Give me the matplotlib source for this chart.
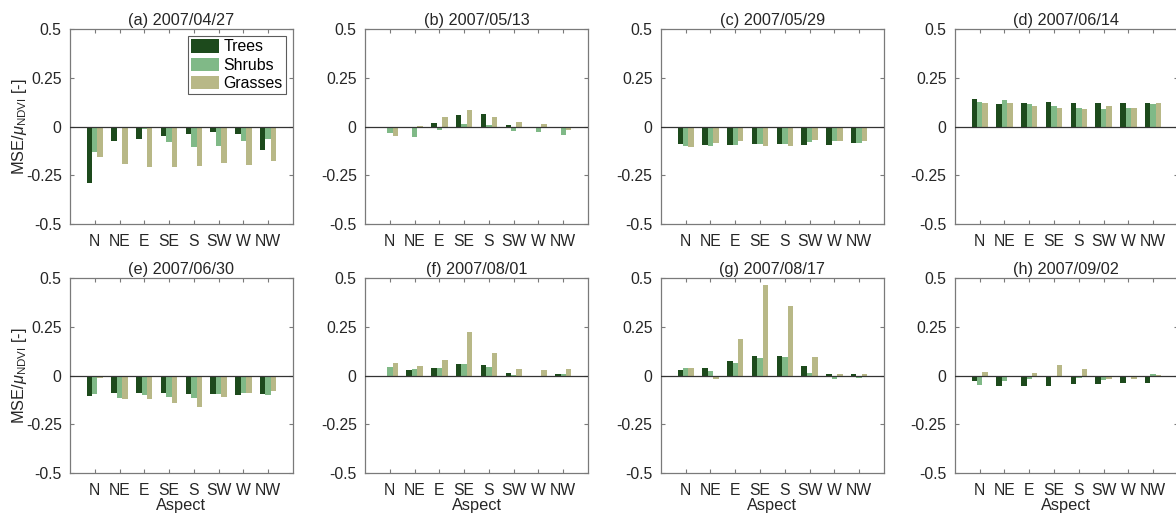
import numpy as np
import matplotlib
matplotlib.use("Agg")
import matplotlib.pyplot as plt

plt.rcParams['font.family'] = ['Liberation Sans', 'DejaVu Sans']
plt.rcParams['mathtext.fontset'] = 'custom'
plt.rcParams['mathtext.rm'] = 'Liberation Sans'
plt.rcParams['mathtext.it'] = 'Liberation Sans:italic'

aspects = ['N', 'NE', 'E', 'SE', 'S', 'SW', 'W', 'NW']
veg_types = ['Trees', 'Shrubs', 'Grasses']
colors = ['#1d4a1c', '#80b987', '#b8b887']
titles = ['(a) 2007/04/27', '(b) 2007/05/13', '(c) 2007/05/29', '(d) 2007/06/14',
          '(e) 2007/06/30', '(f) 2007/08/01', '(g) 2007/08/17', '(h) 2007/09/02']

# normalised MSE per aspect, one list per vegetation type
trees_a = [-0.288, -0.074, -0.062, -0.046, -0.039, -0.027, -0.036, -0.120]
shrubs_a = [-0.128, 0.000, -0.010, -0.079, -0.104, -0.101, -0.072, -0.062]
grasses_a = [-0.156, -0.190, -0.209, -0.205, -0.200, -0.188, -0.197, -0.175]

trees_b = [-0.009, -0.008, 0.017, 0.060, 0.062, 0.007, -0.008, -0.007]
shrubs_b = [-0.031, -0.055, -0.019, 0.014, 0.007, -0.022, -0.029, -0.043]
grasses_b = [-0.048, 0.005, 0.048, 0.086, 0.051, 0.022, 0.012, -0.019]

trees_c = [-0.091, -0.096, -0.094, -0.089, -0.087, -0.094, -0.096, -0.084]
shrubs_c = [-0.101, -0.101, -0.096, -0.089, -0.087, -0.079, -0.075, -0.082]
grasses_c = [-0.103, -0.084, -0.072, -0.099, -0.099, -0.070, -0.072, -0.072]

trees_d = [0.139, 0.118, 0.123, 0.128, 0.122, 0.123, 0.123, 0.120]
shrubs_d = [0.125, 0.135, 0.116, 0.103, 0.094, 0.092, 0.094, 0.115]
grasses_d = [0.122, 0.123, 0.103, 0.094, 0.089, 0.103, 0.096, 0.120]

trees_e = [-0.106, -0.087, -0.087, -0.092, -0.094, -0.096, -0.099, -0.096]
shrubs_e = [-0.096, -0.114, -0.102, -0.109, -0.114, -0.096, -0.089, -0.099]
grasses_e = [-0.012, -0.120, -0.120, -0.140, -0.160, -0.109, -0.089, -0.080]

trees_f = [-0.010, 0.026, 0.041, 0.060, 0.053, 0.012, -0.005, 0.009]
shrubs_f = [0.046, 0.032, 0.041, 0.060, 0.043, 0.002, -0.002, 0.009]
grasses_f = [0.065, 0.048, 0.078, 0.222, 0.116, 0.034, 0.026, 0.034]

trees_g = [0.031, 0.041, 0.073, 0.100, 0.099, 0.048, 0.007, 0.007]
shrubs_g = [0.038, 0.022, 0.065, 0.090, 0.094, 0.015, -0.017, -0.015]
grasses_g = [0.041, -0.019, 0.186, 0.464, 0.357, 0.097, 0.007, 0.007]

trees_h = [-0.027, -0.056, -0.056, -0.056, -0.043, -0.041, -0.036, -0.039]
shrubs_h = [-0.046, -0.027, -0.019, -0.003, -0.012, -0.024, 0.000, 0.007]
grasses_h = [0.017, -0.005, 0.014, 0.053, 0.032, -0.019, -0.019, 0.005]

panels = [
    (trees_a, shrubs_a, grasses_a), (trees_b, shrubs_b, grasses_b),
    (trees_c, shrubs_c, grasses_c), (trees_d, shrubs_d, grasses_d),
    (trees_e, shrubs_e, grasses_e), (trees_f, shrubs_f, grasses_f),
    (trees_g, shrubs_g, grasses_g), (trees_h, shrubs_h, grasses_h),
]

fig = plt.figure(figsize=(11.76, 5.17), dpi=100)

lefts = [0.0595, 0.3104, 0.562, 0.812]
bottoms = [0.5667, 0.0851]
w, h = 0.1896, 0.377

x = np.arange(1, len(aspects) + 1)
bw = 0.22
spine_c = '#7a7a7a'
text_c = '#262626'

for k, (title, series) in enumerate(zip(titles, panels)):
    row, col = divmod(k, 4)
    ax = fig.add_axes([lefts[col], bottoms[row], w, h])
    for j, (vals, c, name) in enumerate(zip(series, colors, veg_types)):
        ax.bar(x + (j - 1) * bw, vals, width=bw, color=c, edgecolor='none',
               label=name, zorder=2)
    ax.axhline(0, color='#333333', lw=0.9, zorder=3)
    ax.set_xlim(0, 9)
    ax.set_ylim(-0.5, 0.5)
    ax.set_xticks(x)
    ax.set_xticklabels(aspects)
    ax.set_yticks([-0.5, -0.25, 0, 0.25, 0.5])
    ax.set_yticklabels(['-0.5', '-0.25', '0', '0.25', '0.5'])
    ax.tick_params(direction='in', top=True, right=True, length=3,
                   color=spine_c, labelsize=11.3, labelcolor=text_c)
    ax.tick_params(axis='x', pad=7)
    ax.tick_params(axis='y', pad=6)
    for sp in ax.spines.values():
        sp.set_color(spine_c)
        sp.set_linewidth(0.9)
    ax.set_title(title, fontsize=11.7, color=text_c, pad=3)
    if col == 0:
        ax.set_ylabel(r'MSE/$\mu_{\mathrm{NDVI}}$ [-]', fontsize=11.8,
                      color=text_c, labelpad=-2)
    if row == 1:
        ax.set_xlabel('Aspect', fontsize=11.8, color=text_c, labelpad=0)
    if k == 0:
        leg = ax.legend(loc='upper right', fontsize=11.4, frameon=True,
                        fancybox=False, handlelength=1.8, handleheight=0.9,
                        handletextpad=0.25, labelspacing=0.2,
                        borderpad=0.2, borderaxespad=0.45)
        leg.get_frame().set_edgecolor('#333333')
        leg.get_frame().set_linewidth(0.8)

plt.savefig('out.png', dpi=100)
